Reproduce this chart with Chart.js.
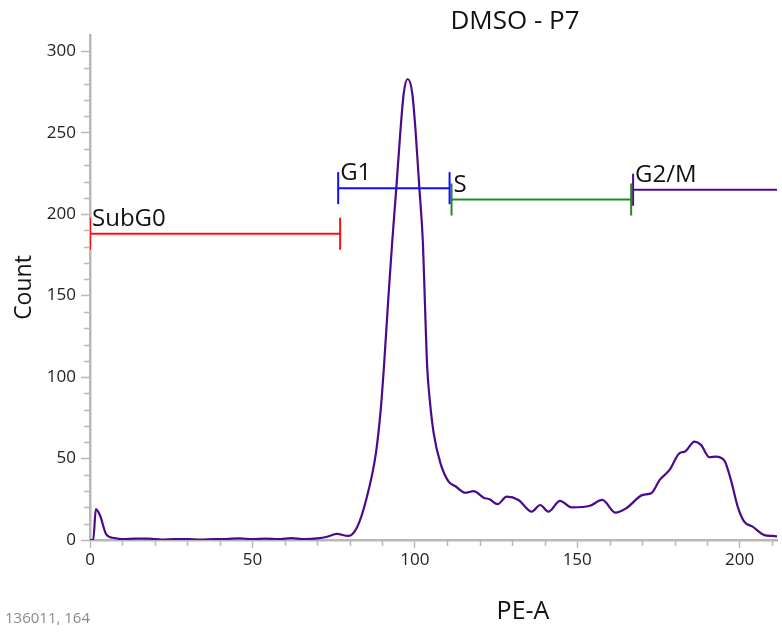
<!DOCTYPE html>
<html>
<head>
<meta charset="utf-8">
<script src="https://cdn.jsdelivr.net/npm/chart.js@4.4.0/dist/chart.umd.min.js"></script>
<style>
  html, body { margin: 0; padding: 0; background: #fff; }
  #wrap { width: 782px; height: 632px; position: relative; }
</style>
</head>
<body>
<div id="wrap"><canvas id="histo"></canvas></div>
<script>
// ---- data ----
const peA = [0, 1, 1.8, 3.1, 5, 7.5, 10, 14, 18, 22, 26, 30, 34, 38, 42, 46, 50, 54, 58, 62, 66, 70,
  73, 76, 79.5, 82.3, 85, 88, 89.5, 90.5, 91.8, 93, 94.3, 95.6, 96.6, 97.8, 99.2, 100.2, 101.4,
  102.5, 103.1, 103.8, 104.6, 105.8, 107.9, 110.4, 112.5, 115.5, 118.1, 121.2, 123, 125.5, 128.3,
  131.9, 136, 138.6, 141.1, 144.7, 148.3, 153.9, 157.7, 161.8, 165.1, 170.2, 172.8, 175.4, 178.4,
  181.5, 183.2, 186.1, 188.1, 190.7, 192.7, 195.3, 197.3, 199.4, 201.4, 204, 207.6, 210.1, 213];
const counts = [0, 0, 19, 15, 3.5, 1.2, 0.5, 0.8, 0.8, 0.2, 0.5, 0.5, 0.2, 0.5, 0.6, 1, 0.5, 0.8, 0.5, 1.2, 0.5, 1,
  2, 3.7, 2.5, 8.2, 24.6, 53, 80, 106.5, 147, 182, 216, 252, 274.5, 283, 274.5, 252, 216,
  182, 146, 106.5, 86, 65.6, 47, 35.8, 33, 29, 30, 26, 25, 22, 26.6,
  24.6, 17.4, 21.5, 17.4, 24, 20, 21, 24.6, 16.8, 19.5, 27.7, 28.7, 36.9, 43,
  53.3, 54.3, 60.4, 58.4, 50.8, 51.2, 48.7, 36.9, 20.5, 11.3, 8.2, 3, 2.5, 2];

const gateNames = ['SubG0', 'G1', 'S', 'G2/M'];
const gateStart = [0, 76.4, 111.3, 167.2];
const gateEnd = [77, 110.7, 166.6, 240];
const gateLevel = [188, 216, 209, 215];
const gateColors = ['#ff1010', '#1010ff', '#228b22', '#4b0a8c'];

const xTicksMajor = [0, 50, 100, 150, 200];
const yTicksMajor = [0, 50, 100, 150, 200, 250, 300];

const FONT = '"Open Sans", "Noto Sans", sans-serif';
const AXIS = '#b8b8b8';

const datasets = gateNames.map((name, i) => ({
  label: name,
  data: [{ x: gateStart[i], y: gateLevel[i] }, { x: gateEnd[i], y: gateLevel[i] }],
  borderColor: gateColors[i],
  borderWidth: 2,
  pointStyle: 'line',
  pointRotation: 90,
  pointRadius: 16,
  pointBorderColor: gateColors[i],
  pointBorderWidth: 2,
  tension: 0
}));
datasets.push({
  label: 'Count',
  data: peA.map((v, i) => ({ x: v, y: counts[i] })),
  borderColor: '#4b0a8c',
  borderWidth: 2.2,
  pointRadius: 0,
  cubicInterpolationMode: 'monotone'
});

// minor ticks every 10 + free texts
const extras = {
  id: 'extras',
  afterDraw(chart) {
    const { ctx, scales: { x, y } } = chart;
    ctx.save();
    ctx.strokeStyle = AXIS;
    ctx.lineWidth = 1.5;
    ctx.beginPath();
    for (let v = 10; v < 310; v += 10) {
      if (v % 50 === 0) continue;
      const py = Math.round(y.getPixelForValue(v)) + 0.5;
      ctx.moveTo(x.left - 6, py); ctx.lineTo(x.left, py);
    }
    for (let v = 10; v <= 210; v += 10) {
      if (v % 50 === 0) continue;
      const px = Math.round(x.getPixelForValue(v)) + 0.5;
      ctx.moveTo(px, y.bottom); ctx.lineTo(px, y.bottom + 6);
    }
    ctx.stroke();

    ctx.fillStyle = '#111';
    ctx.textBaseline = 'alphabetic';
    ctx.textAlign = 'left';
    ctx.font = '24px ' + FONT;
    gateNames.forEach((name, i) => {
      ctx.fillText(name, x.getPixelForValue(gateStart[i]) + 2, y.getPixelForValue(gateLevel[i]) - 8);
    });

    ctx.textAlign = 'center';
    ctx.font = '26px ' + FONT;
    ctx.fillText('DMSO - P7', 515, 29);
    ctx.font = '25px ' + FONT;
    ctx.fillText('PE-A', 523, 619);

    ctx.save();
    ctx.font = '23px ' + FONT;
    ctx.translate(31, (y.top + y.bottom) / 2);
    ctx.rotate(-Math.PI / 2);
    ctx.fillText('Count', 0, 0);
    ctx.restore();

    ctx.textAlign = 'left';
    ctx.fillStyle = '#8a8a8a';
    ctx.font = '15px ' + FONT;
    ctx.fillText('136011, 164', 5, 623);
    ctx.restore();
  }
};

new Chart(document.getElementById('histo'), {
  type: 'line',
  data: { datasets },
  options: {
    responsive: true,
    maintainAspectRatio: false,
    animation: false,
    events: [],
    layout: { autoPadding: false, padding: { top: 35, right: 5, left: 0, bottom: 0 } },
    plugins: { legend: { display: false }, tooltip: { enabled: false }, title: { display: false } },
    scales: {
      x: {
        type: 'linear', min: 0, max: 211.5,
        afterFit: s => { s.height = 92; s.paddingLeft = 0; s.paddingRight = 0; },
        afterBuildTicks: s => { s.ticks = xTicksMajor.map(v => ({ value: v })); },
        ticks: { color: '#222', font: { family: FONT, size: 17 }, padding: 2, maxRotation: 0 },
        grid: { drawOnChartArea: false, tickLength: 8, tickColor: AXIS, tickWidth: 1.5 },
        border: { color: AXIS, width: 2.5 }
      },
      y: {
        type: 'linear', min: 0, max: 310,
        afterFit: s => { s.width = 90; s.paddingTop = 0; s.paddingBottom = 0; },
        afterBuildTicks: s => { s.ticks = yTicksMajor.map(v => ({ value: v })); },
        ticks: { color: '#222', font: { family: FONT, size: 17 }, padding: 5 },
        grid: { drawOnChartArea: false, tickLength: 9, tickColor: AXIS, tickWidth: 1.5 },
        border: { color: AXIS, width: 2.5 }
      }
    }
  },
  plugins: [extras]
});
</script>
</body>
</html>
